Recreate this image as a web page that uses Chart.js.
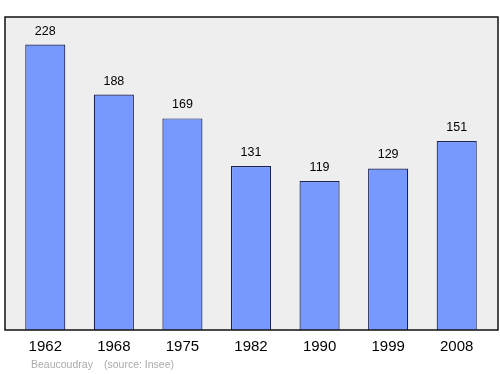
<!DOCTYPE html>
<html>
<head>
<meta charset="utf-8">
<script src="https://cdn.jsdelivr.net/npm/chart.js@4/dist/chart.umd.min.js"></script>
<style>
  html, body { margin: 0; padding: 0; background: #ffffff; }
  #wrap { width: 500px; height: 374px; position: relative; }
</style>
</head>
<body>
<div id="wrap"><canvas id="chart"></canvas></div>
<script>
const years = ["1962", "1968", "1975", "1982", "1990", "1999", "2008"];
const population = [228, 188, 169, 131, 119, 129, 151];
const yMax = 250;
const commune = "Beaucoudray";
const source = "(source: Insee)";

// frame, value labels, year labels and footer
const decor = {
  id: 'decor',
  beforeDraw(chart) {
    const ctx = chart.ctx;
    const a = chart.chartArea;
    ctx.save();
    ctx.fillStyle = '#eeeeee';
    ctx.fillRect(a.left - 6, a.top, a.right - a.left + 13, a.bottom - a.top);
    ctx.restore();
  },
  afterDraw(chart) {
    const ctx = chart.ctx;
    const a = chart.chartArea;
    const xs = chart.scales.x;
    const ys = chart.scales.y;
    ctx.save();
    ctx.strokeStyle = '#111111';
    ctx.lineWidth = 1.5;
    ctx.strokeRect(a.left - 6, a.top, a.right - a.left + 13, a.bottom - a.top);

    ctx.textAlign = 'center';
    ctx.fillStyle = '#000000';
    ctx.font = '12.5px "Liberation Sans", Arial, sans-serif';
    ctx.textBaseline = 'alphabetic';
    population.forEach((v, i) => {
      ctx.fillText(String(v), xs.getPixelForValue(i), ys.getPixelForValue(v) - 10);
    });

    ctx.font = '15px "Liberation Sans", Arial, sans-serif';
    ctx.textBaseline = 'middle';
    years.forEach((y, i) => {
      ctx.fillText(y, xs.getPixelForValue(i), a.bottom + 17);
    });

    ctx.textAlign = 'left';
    ctx.fillStyle = '#aaaaaa';
    ctx.font = '10.5px "Liberation Sans", Arial, sans-serif';
    ctx.fillText(commune, 31, a.bottom + 35);
    ctx.fillText(source, 104, a.bottom + 35);
    ctx.restore();
  }
};

const chart = new Chart(document.getElementById('chart'), {
  type: 'bar',
  data: {
    labels: years,
    datasets: [{
      data: population,
      backgroundColor: '#7799ff',
      borderColor: '#1a2255',
      borderWidth: 1.2,
      barPercentage: 0.585,
      categoryPercentage: 1
    }]
  },
  options: {
    responsive: true,
    maintainAspectRatio: false,
    animation: false,
    layout: { padding: { top: 17, bottom: 44, left: 11, right: 9 } },
    plugins: { legend: { display: false }, tooltip: { enabled: false } },
    scales: {
      x: { display: false },
      y: { display: false, min: 0, max: yMax }
    }
  },
  plugins: [decor]
});
</script>
</body>
</html>
